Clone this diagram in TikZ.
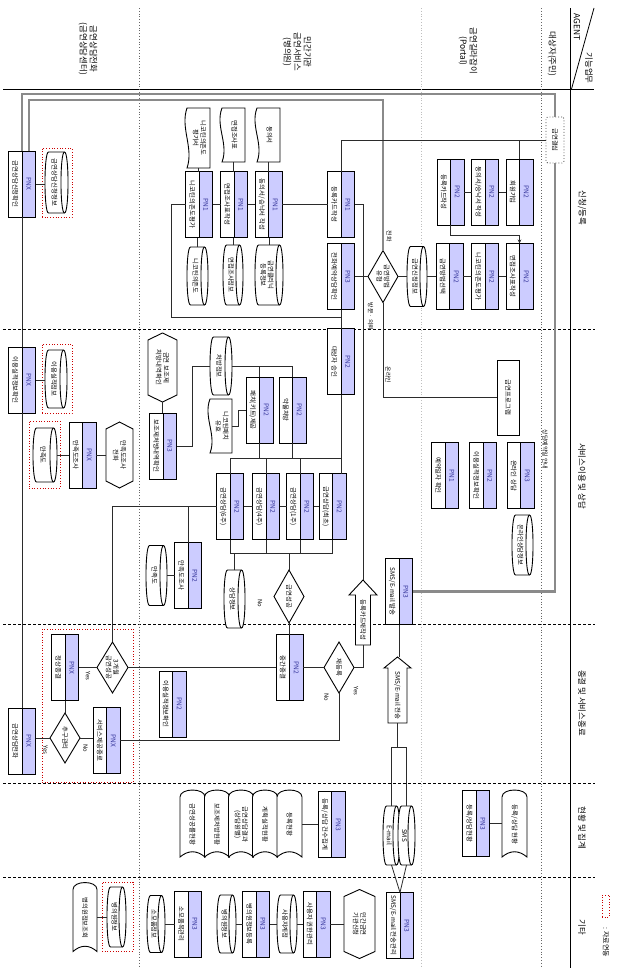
\documentclass[tikz,border=0pt]{standalone}
\usepackage{fontspec}
\setmainfont{Noto Sans CJK KR}
\usetikzlibrary{calc,arrows.meta,shapes.geometric}
\definecolor{pnfill}{HTML}{CCCCFF}
\definecolor{pnlab}{HTML}{33339A}
\definecolor{lnc}{HTML}{2B2B2B}
\definecolor{thk}{HTML}{8A8A8A}
\tikzset{
  hid/.style={rectangle,draw=none,inner sep=0pt,outer sep=0pt},
  boxline/.style={draw=black,line width=0.9pt},
  conn/.style={draw=lnc,line width=0.8pt},
  thickln/.style={draw=thk,line width=2.2pt},
  txt/.style={rotate=-90,font=\fontsize{6.4}{7.3}\selectfont,align=center,inner sep=0pt},
  labt/.style={txt,text=pnlab,font=\fontsize{6.6}{7.5}\selectfont},
  small/.style={txt,font=\fontsize{5.9}{6.8}\selectfont},
  head/.style={txt,font=\fontsize{8.4}{10}\selectfont},
  reddot/.style={rectangle,draw=red!80!black,dotted,line width=0.7pt,inner sep=0pt},
  dia/.style={diamond,draw=black,line width=0.9pt,fill=white,inner sep=0pt,outer sep=0pt},
  gkstyle/.style={rectangle,draw=gray!60!black,dotted,line width=0.9pt,rounded corners=2pt,fill=white,inner sep=0pt,minimum width=18pt,minimum height=46pt},
}
\newcommand\PN[5]{%
  \node[hid,minimum width=27pt,minimum height=66pt] (#1) at (#2,#3) {};
  \fill[white] ({#2-13.5},{#3-33}) rectangle ({#2},{#3+33});
  \fill[pnfill] ({#2},{#3-33}) rectangle ({#2+13.5},{#3+33});
  \draw[boxline] ({#2-13.5},{#3-33}) rectangle ({#2+13.5},{#3+33});
  \draw[boxline] ({#2},{#3-33}) -- ({#2},{#3+33});
  \node[labt] (#1-l) at ({#2+6.75},{#3}) {#4};
  \node[txt] (#1-t) at ({#2-6.75},{#3}) {#5};
}
\newcommand\CYL[6]{%
  \node[hid,minimum width=#4pt,minimum height=#5pt] (#1) at (#2,#3) {};
  \pgfmathsetmacro\cyL{#2-#4/2}\pgfmathsetmacro\cyR{#2+#4/2}%
  \pgfmathsetmacro\cyT{#3-#5/2}\pgfmathsetmacro\cyB{#3+#5/2}%
  \filldraw[boxline,fill=white] ({\cyR-3.5},\cyT) -- ({\cyL+3.5},\cyT) .. controls ({\cyL-1.2},\cyT) and ({\cyL-1.2},\cyB) .. ({\cyL+3.5},\cyB) -- ({\cyR-3.5},\cyB) .. controls ({\cyR+1.2},\cyB) and ({\cyR+1.2},\cyT) .. ({\cyR-3.5},\cyT) -- cycle;
  \draw[boxline] ({\cyR-3.5},\cyT) .. controls ({\cyR-8.2},\cyT) and ({\cyR-8.2},\cyB) .. ({\cyR-3.5},\cyB);
  \node[txt] (#1-t) at ({#2-2},#3) {#6};
}
\newcommand\DOC[6]{%
  \node[hid,minimum width=#4pt,minimum height=#5pt] (#1) at (#2,#3) {};
  \pgfmathsetmacro\cyL{#2-#4/2}\pgfmathsetmacro\cyR{#2+#4/2}%
  \pgfmathsetmacro\cyT{#3-#5/2}\pgfmathsetmacro\cyB{#3+#5/2}%
  \pgfmathsetmacro\cyA{#3-#5/6}\pgfmathsetmacro\cyC{#3+#5/6}%
  \filldraw[boxline,fill=white] (\cyL,\cyT) -- (\cyR,\cyT) -- (\cyR,\cyB) -- (\cyL,\cyB) .. controls ({\cyL+7},\cyC) and ({\cyL-7},\cyA) .. (\cyL,\cyT) -- cycle;
  \node[txt] (#1-t) at ({#2+1},#3) {#6};
}
\newcommand\REP[6]{%
  \node[hid,minimum width=#4pt,minimum height=#5pt] (#1) at (#2,#3) {};
  \pgfmathsetmacro\cyL{#2-#4/2}\pgfmathsetmacro\cyR{#2+#4/2}%
  \pgfmathsetmacro\cyT{#3-#5/2}\pgfmathsetmacro\cyB{#3+#5/2}%
  \filldraw[boxline,fill=white] (\cyL,{\cyT+7}) .. controls (\cyL,{\cyT-2.3}) and (\cyR,{\cyT-2.3}) .. (\cyR,{\cyT+7}) -- (\cyR,\cyB) .. controls ({\cyR-#4/3},{\cyB-7}) and ({\cyL+#4/3},{\cyB-7}) .. (\cyL,\cyB) -- cycle;
  \node[txt] (#1-t) at (#2,{#3+1}) {#6};
}
\newcommand\HEX[6]{%
  \node[hid,minimum width=#4pt,minimum height=#5pt] (#1) at (#2,#3) {};
  \pgfmathsetmacro\cyL{#2-#4/2}\pgfmathsetmacro\cyR{#2+#4/2}%
  \pgfmathsetmacro\cyT{#3-#5/2}\pgfmathsetmacro\cyB{#3+#5/2}%
  \filldraw[boxline,fill=white] (#2,\cyT) -- (\cyR,{\cyT+7}) -- (\cyR,{\cyB-7}) -- (#2,\cyB) -- (\cyL,{\cyB-7}) -- (\cyL,{\cyT+7}) -- cycle;
  \node[txt] (#1-t) at (#2,#3) {#6};
}
\newcommand\BARR[8]{%
  \node[hid,minimum width=#4pt,minimum height=#5pt] (#1) at (#2,#3) {};
  \pgfmathsetmacro\cyL{#2-#4/2}\pgfmathsetmacro\cyR{#2+#4/2}%
  \pgfmathsetmacro\cyT{#3-#5/2}\pgfmathsetmacro\cyB{#3+#5/2}%
  \pgfmathsetmacro\cyA{#2-#6/2}\pgfmathsetmacro\cyC{#2+#6/2}%
  \pgfmathsetmacro\cyH{#3-#5/2+#7}%
  \filldraw[boxline,fill=white] (#2,\cyT) -- (\cyR,\cyH) -- (\cyC,\cyH) -- (\cyC,\cyB) -- (\cyA,\cyB) -- (\cyA,\cyH) -- (\cyL,\cyH) -- cycle;
  \node[txt] (#1-t) at (#2,{(\cyH+\cyB)/2}) {#8};
}
\begin{document}
\begin{tikzpicture}[x=1pt,y=-1pt]
\useasboundingbox (0,0) rectangle (619,977);
\fill[white] (0,0) rectangle (619,977);
\coordinate (y94) at (0,94);
\coordinate (y100) at (0,100);
\coordinate (b1) at (0,458);
\coordinate (b2) at (0,553);
\coordinate (fk) at (0,747);

% ---------- frame ----------
\draw[line width=1pt] (3,89) -- (594,89);
\draw[line width=1pt] (570,8) -- (570,968);
\draw[line width=0.8pt] (571.5,89) -- (594,8);
\foreach \yy in {329,624,783,877} \draw[line width=0.8pt,dash pattern=on 3pt off 2pt] (3,\yy) -- (595,\yy);
\draw[gray!80!black,dotted,line width=0.8pt] (139,8) -- (139,968);
\draw[gray!50,dotted,line width=0.8pt] (421,8) -- (421,968);
\draw[gray!80!black,dotted,line width=0.8pt] (541,8) -- (541,968);

\node[head] (h1) at (88,49) {금연상담전화\\(금연상담센터)};
\node[head] (h2) at (297,52) {민간기관\\금연서비스\\(병의원)};
\node[head] (h3) at (468,51) {금연길라잡이\\(Portal)};
\node[head] (h4) at (552,54) {대상자(주민)};
\node[head] (h5) at (577,27) {AGENT};
\node[head] (h6) at (589,68) {기능업무};
\node[head] (f1) at (582,208) {신청/등록};
\node[head] (f2) at (582,476) {서비스이용 및 상담};
\node[head] (f3) at (582,703) {종결 및 서비스종료};
\node[head] (f4) at (582,828) {현황 및 집계};
\node[head] (f5) at (582,927) {기타};
\node[reddot,minimum width=7pt,minimum height=22pt] (lg) at (605.5,906) {};
\node[txt,font=\fontsize{7}{8}\selectfont] (lgt) at (606,942) {: 자료연동};

% ---------- phase 1 ----------
\PN{px1}{22}{184}{PNX}{금연상담신청확인}
\node[reddot,minimum width=30pt,minimum height=69pt] (rd1) at (57,182.5) {};
\CYL{c1}{56.5}{182.5}{23}{61}{금연상담신청정보}
\DOC{d1}{198.5}{138}{23}{60}{니코틴의존도\\평가서}
\DOC{d2}{233.5}{135}{23}{54}{면접조사표}
\DOC{d3}{268.5}{135}{23}{54}{동의서}
\PN{pa1}{199}{204.5}{PN1}{니코틴의존도평가}
\PN{pa2}{234}{204.5}{PN1}{면접조사표작성}
\PN{pa3}{268.5}{204.5}{PN1}{동의서/승낙서 작성}
\PN{pa4}{341}{204.5}{PN1}{등록카드작성}
\CYL{ca1}{197.5}{276}{21}{58}{니코틴의존도}
\CYL{ca2}{233}{275}{20}{60}{면접조사정보}
\CYL{ca3}{269}{275}{28}{60}{금연클리닉\\등록정보}
\PN{pb}{341}{276.5}{PN3}{전화예약상담확인}
\node[dia,minimum width=30pt,minimum height=52pt] (dm1) at (383,276.5) {};
\node[txt] (dm1-t) at (383,276.5) {금연방법\\유형};
\CYL{cb}{417}{276.5}{20}{60}{금연신청정보}
\PN{pq1}{449.5}{276.5}{PN2}{금연방법선택}
\PN{pq2}{485}{276.5}{PN2}{니코틴의존도평가}
\PN{pq3}{519.5}{276.5}{PN2}{면접조사표작성}
\PN{pr1}{450.5}{192}{PN2}{등록카드작성}
\PN{pr2}{485}{192}{PN2}{동의서/승낙서 작성}
\PN{pr3}{519.5}{192}{PN2}{회원가입}
\node[gkstyle] (gk) at (555,140) {};
\node[txt] (gk-t) at (555,140) {금연결심};

% ---------- phase 2 ----------
\HEX{hx1}{162.5}{367.5}{29}{69}{금연 보조제\\처방내역확인}
\PN{pc1}{163}{446}{PN3}{보조제처방내역확인}
\CYL{cc1}{221}{366}{22}{58}{처방정보}
\DOC{dc1}{221}{426}{22}{54}{니코틴패치\\유효}
\PN{pc2}{259.5}{410}{PN2}{패치(키트)제공}
\PN{pc3}{292.5}{410}{PN2}{약물처방}
\PN{pc4}{341}{361.5}{PN2}{대상자 승인}
\PN{pm1}{230}{506.5}{PN2}{금연상담(6주)}
\PN{pm2}{266}{506.5}{PN2}{금연상담(4주)}
\PN{pm3}{300}{506.5}{PN2}{금연상담(1주)}
\PN{pm4}{332.5}{506.5}{PN2}{금연상담(최초)}
\CYL{cm1}{234.5}{599}{21}{58}{상담정보}
\node[dia,minimum width=30pt,minimum height=53pt] (dm2) at (289,596.5) {};
\node[txt] (dm2-t) at (289,596.5) {금연성공};
\PN{pm5}{188}{575.5}{PN2}{만족도조사}
\CYL{cm2}{156.5}{575.5}{21}{60}{만족도}
\node[rectangle,boxline,fill=white,minimum width=22pt,minimum height=75pt,inner sep=0pt] (gp) at (508,397.5) {};
\node[txt] (gp-t) at (508,397.5) {금연프로그램};
\PN{po1}{445}{475.5}{PN1}{예약일자 확인}
\PN{po2}{483}{475.5}{PN2}{이용실적정보확인}
\PN{po3}{520.5}{475.5}{PN3}{온라인 상담}
\CYL{co1}{522.5}{545}{21}{60}{온라인상담정보}
\PN{ps1}{399}{591.5}{PN3}{SMS/E-mail 발송}
\BARR{ar1}{363}{612.5}{28}{65}{15}{15}{등록카드재작성}
\PN{px2}{22}{380}{PNX}{이용실적정보확인}
\node[reddot,minimum width=30pt,minimum height=69pt] (rd2) at (57,378.5) {};
\CYL{cx2}{56}{379}{22}{58}{이용실적정보}
\PN{px3}{82.5}{455}{PNX}{만족도조사}
\node[reddot,minimum width=31pt,minimum height=67pt] (rd3) at (44.5,454.5) {};
\CYL{cx3}{45}{455}{24}{54}{만족도}
\HEX{hx2}{119.5}{455}{27}{66}{만족도조사\\전화}

% ---------- phase 3 ----------
\node[reddot,minimum width=91pt,minimum height=153pt] (rd4) at (87.5,705.5) {};
\PN{px4}{65}{667.5}{PNX}{정상종결}
\node[dia,minimum width=31pt,minimum height=51pt] (dm3) at (112.5,667.5) {};
\node[txt] (dm3-t) at (112.5,667.5) {3개월\\금연성공};
\node[dia,minimum width=30pt,minimum height=50pt] (dm4) at (65,738) {};
\node[txt] (dm4-t) at (65,738) {추구관리};
\PN{px5}{106.5}{740.5}{PNX}{서비스제공종료}
\PN{px6}{22}{741}{PNX}{금연상담전화}
\PN{pn6}{172.5}{704}{PN2}{이용실적정보확인}
\PN{pn7}{289.5}{667.5}{PN2}{중간종결}
\node[dia,minimum width=30pt,minimum height=51pt] (dm5) at (339,667.5) {};
\node[txt] (dm5-t) at (339,667.5) {재등록};
\BARR{ar2}{397.5}{690}{27}{66}{19}{11}{SMS/E-mail 전송}

% ---------- phase 4 ----------
\PN{pz1}{331.5}{824.5}{PN3}{등록/상담 건수집계}
\REP{rp5}{192.5}{823.5}{25}{67}{금연성공률현황}
\REP{rp4}{217}{823.5}{25}{67}{보조제처방현황}
\REP{rp3}{241}{823.5}{25}{67}{금연상담결과\\(상담원별)}
\REP{rp2}{265}{823.5}{25}{67}{계획실적현황}
\REP{rp1}{289.5}{823.5}{25}{67}{등록현황}
\CYL{ce1}{391.5}{835.5}{17}{59}{E-mail}
\CYL{ce2}{406.5}{835.5}{17}{59}{SMS}
\PN{pz2}{476}{823.5}{PN3}{등록/상담현황}
\REP{rp6}{514.5}{823.5}{25}{67}{등록/상담 현황}

% ---------- phase 5 ----------
\PN{pf1}{400}{925.5}{PN3}{SMS/E-mail 전송관리}
\HEX{hx3}{359.5}{924}{31}{69}{민간금연\\기관신청}
\PN{pf2}{316.5}{924}{PN3}{사용자 권한관리}
\CYL{cf1}{287}{924}{20}{58}{사용자계정}
\PN{pf3}{256}{924}{PN3}{병의원정보등록}
\CYL{cf2}{226.5}{924}{19}{58}{병의원정보}
\PN{pf4}{188}{924}{PN3}{소모품목관리}
\CYL{cf3}{156}{924}{18}{57}{소모품정보}
\node[reddot,minimum width=31pt,minimum height=69pt] (rd5) at (117.5,916.5) {};
\CYL{cf4}{116.5}{917}{19}{60}{병의원정보}
\REP{rp7}{85}{917}{24}{69}{병의원정보조회}

% ---------- connectors ----------
\draw[thickln] (gk.north) -- (gk.north |- y94) -- (px1.north |- y94) -- (px1.north);
\coordinate (p1r) at ($(px1.north)!0.5!(px1.north east)$);
\draw[thickln] (dm1.north) -- (dm1.north |- y100) -- (p1r |- y100) -- (p1r);
\draw[thickln] (gk.south) -- (gk.south |- ps1.east) -- (ps1.east);

\draw[conn] (gk.west) -| (pa4.north);
\draw[conn] (pr3.north) -- (pr3.north |- gk.west);
\draw[conn] (pr3) -- (pr2);
\draw[conn] (pr2) -- (pr1);
\draw[conn,-{Stealth[length=4pt,width=3.5pt]}] (pr1.south) -- ++(0,10) -| (pq3.north);
\draw[conn] (pq3) -- (pq2);
\draw[conn] (pq2) -- (pq1);
\draw[conn] (pq1) -- (cb);
\draw[conn] (cb) -- (dm1);
\draw[conn] (dm1) -- (pb);
\draw[conn] (dm1.south) |- (gp.west);
\draw[conn] (pa4.east) -| (ar1.north);
\draw[conn] (pa4) -- (pa3);
\draw[conn] (pa3) -- (pa2);
\draw[conn] (pa2) -- (pa1);
\draw[conn] (d1.south) -- (d1.south |- pa1.north);
\draw[conn] (d2.south) -- (d2.south |- pa2.north);
\draw[conn] (d3.south) -- (d3.south |- pa3.north);
\draw[conn] (ca1.north) -- (ca1.north |- pa1.south);
\draw[conn] (ca2.north) -- (ca2.north |- pa2.south);
\draw[conn] (ca3.north) -- (ca3.north |- pa3.south);
\coordinate (j1) at (341,317);
\draw[conn] (pa1.west) -- ++(-14,0) |- (j1);
\draw[conn] (pb) -- (pc4);
\draw[conn] (pc4.south) -- (pc4.south |- pm4.north);
\draw[conn] (pm1.north) -- (pm1.north |- b1) -- (b1 -| pc4.south);
\draw[conn] (pm2.north) -- (pm2.north |- b1);
\draw[conn] (pm3.north) -- (pm3.north |- b1);
\draw[conn] (pc2.south) -- (pc2.south |- b1);
\draw[conn] (pc3.south) -- (pc3.south |- b1);
\draw[conn] (pm4) -- (pm3);
\draw[conn] (pm3) -- (pm2);
\draw[conn] (pm2) -- (pm1);
\draw[conn] (pm1.west) -| (dm3.north);
\draw[conn] (pm5.north) -- (pm5.north |- pm1.west);
\draw[conn] (pm1.south) -- (pm1.south |- b2) -- (b2 -| pm4.south);
\draw[conn] (pm2.south) -- (pm2.south |- b2);
\draw[conn] (pm3.south) -- (pm3.south |- b2);
\draw[conn] (pm4.south) -- (pm4.south |- b2);
\draw[conn] (cm1.north) -- (cm1.north |- b2);
\draw[conn] (dm2.north) -- (dm2.north |- b2);
\draw[conn] (dm2.south) -- (dm2.south |- pn7.north);
\draw[conn] (pm5) -- (cm2);
\draw[conn] (hx1.south) -- (hx1.south |- pc1.north);
\draw[conn] (pc1.east) -- ++(16,0) |- (cc1.west);
\draw[conn] (cc1.east) -| (pc3.north);
\draw[conn] (pc2.north) -- (pc2.north |- cc1.east);
\draw[conn] (dc1.east) -- ++(6,0) |- (pc2.west);
\draw[conn] (ps1.south) -- (ps1.south |- ar2.north);
\draw[conn] (ar2.south) -- (ar2.south |- fk);
\draw[conn] (ce1.north) -- (ce1.north |- fk) -- (ce2.north |- fk) -- (ce2.north);
\draw[conn] (ce1.south) -- (pf1.north);
\draw[conn] (ce2.south) -- (pf1.north);
\draw[conn] (dm3.west) -- (dm3.west -| px4.east);
\draw[conn] (pn7) -- (dm3);
\draw[conn] (dm5) -- (pn7);
\draw[conn] (dm5.east) -| (ar1.south);
\draw[conn] (dm5.south) |- (px5.east);
\draw[conn] (px4.south) -- (px4.south |- dm4.north);
\draw[conn] (dm4.west) -- (dm4.west -| px6.east);
\draw[conn] (dm4.east) -- (dm4.east -| px5.west);
\draw[conn] (px1) -- (px2);
\draw[conn] (px2) -- (px6);
\draw[conn] (px2.east) -- (px2.east -| cx2.west);
\draw[conn] (px1.east) -- (px1.east -| c1.west);
\draw[conn] (hx2) -- (px3);
\draw[conn] (px3) -- (cx3);
\draw[conn] (pz1.west) -- (pz1.west -| rp1.east);
\draw[conn] (pz2.east) -- (pz2.east -| rp6.west);
\draw[conn] (hx3) -- (pf2);
\draw[conn] (pf2) -- (cf1);
\draw[conn] (cf1) -- (pf3);
\draw[conn] (pf3) -- (cf2);
\draw[conn] (pf4) -- (cf3);
\draw[conn] (cf4.west) -- (cf4.west -| rp7.east);

% ---------- labels ----------
\node[small] (lb1) at (389,236) {전화};
\node[small] (lb2) at (388,375) {온라인};
\node[small] (lb3) at (370.5,316.5) {방문 · 의뢰};
\node[small] (lb4) at (545,449.5) {상담예약일 안내};
\node[small] (lb5) at (260,603.5) {No};
\node[small] (lb6) at (88,676) {Yes};
\node[small] (lb7) at (356,691) {Yes};
\node[small] (lb8) at (326.5,697.5) {No};
\node[small] (lb9) at (45.5,750) {Yes};
\node[small] (lb10) at (85.5,748.5) {No};
\end{tikzpicture}
\end{document}
